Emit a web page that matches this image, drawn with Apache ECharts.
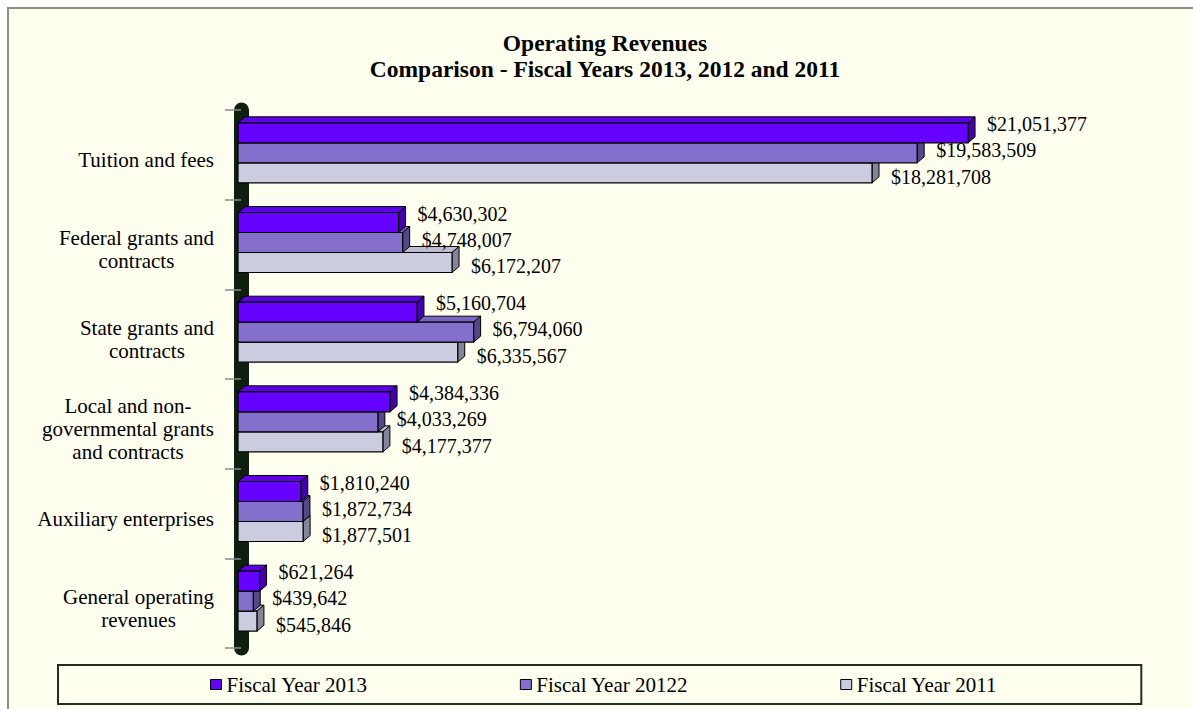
<!DOCTYPE html>
<html>
<head>
<meta charset="utf-8">
<script src="https://cdn.jsdelivr.net/npm/echarts@6/dist/echarts.min.js"></script>
<style>
  html, body { margin: 0; padding: 0; background: #ffffff; overflow: hidden; }
  #frame { position: absolute; left: 7px; top: 7px; width: 1300px; height: 800px;
           border: 2px solid #8a9080; background: #FFFFF0; }
  #chart { position: absolute; left: 0; top: 0; width: 1193px; height: 709px; }
</style>
</head>
<body>
<div id="frame"></div>
<div id="chart"></div>
<script>
const categories = [
  'Tuition and fees',
  'Federal grants and\ncontracts',
  'State grants and\ncontracts',
  'Local and non-\ngovernmental grants\nand contracts',
  'Auxiliary enterprises',
  'General operating\nrevenues'
];
const seriesNames = ['Fiscal Year 2013', 'Fiscal Year 20122', 'Fiscal Year 2011'];
const fy2013 = [21051377, 4630302, 5160704, 4384336, 1810240, 621264];
const fy2012 = [19583509, 4748007, 6794060, 4033269, 1872734, 439642];
const fy2011 = [18281708, 6172207, 6335567, 4177377, 1877501, 545846];

const FONT = '"Liberation Serif", "Times New Roman", serif';
const palette = [
  { front: '#6600FF', top: '#5C00E6', side: '#4400AA', dy: -9 },
  { front: '#8470CC', top: '#7A66C0', side: '#554888', dy: -3 },
  { front: '#CCCCE0', top: '#BDBDD2', side: '#85859A', dy: 4 }
];

function fmt(v) { return '$' + Math.round(v).toLocaleString('en-US'); }

function render3D(idx) {
  const col = palette[idx];
  return function (params, api) {
    const cat = api.value(0), val = api.value(1);
    const a = api.coord([0, cat]);
    const b = api.coord([val, cat]);
    const band = api.size([0, 1])[1];
    const h = band * 0.223;
    const dx = 7, dy = 6;
    const y = a[1] - 1.5 * h - 2 + idx * h;
    const x0 = a[0], x1 = b[0];
    return {
      type: 'group',
      children: [
        { type: 'polygon', shape: { points: [[x0, y], [x0 + dx, y - dy], [x1 + dx, y - dy], [x1, y]] },
          style: { fill: col.top, stroke: '#000', lineWidth: 1 } },
        { type: 'polygon', shape: { points: [[x1, y], [x1 + dx, y - dy], [x1 + dx, y + h - dy], [x1, y + h]] },
          style: { fill: col.side, stroke: '#000', lineWidth: 1 } },
        { type: 'rect', shape: { x: x0, y: y, width: x1 - x0, height: h },
          style: { fill: col.front, stroke: '#000', lineWidth: 1.2 } },
        { type: 'text', x: x1 + dx + 12, y: y + h / 2 + col.dy,
          style: { text: fmt(val), fill: '#000', font: '20px ' + FONT, align: 'left', verticalAlign: 'middle' } }
      ]
    };
  };
}

const seriesData = [fy2013, fy2012, fy2011];
const chart = echarts.init(document.getElementById('chart'), null, { renderer: 'svg' });
chart.setOption({
  backgroundColor: 'transparent',
  animation: false,
  title: {
    text: 'Operating Revenues\nComparison - Fiscal Years 2013, 2012 and 2011',
    left: 600, top: 25, textAlign: 'center',
    textStyle: { fontFamily: FONT, fontSize: 23.5, fontWeight: 'bold', lineHeight: 26, color: '#000' }
  },
  legend: {
    left: 58, top: 665,
    padding: [9, 144, 9, 152],
    borderColor: '#203020', borderWidth: 2,
    backgroundColor: '#FFFFF0',
    itemWidth: 11, itemHeight: 10, itemGap: 152,
    textStyle: { fontFamily: FONT, fontSize: 21, color: '#000' },
    data: seriesNames.map((n, i) => ({
      name: n, icon: 'rect',
      itemStyle: { color: palette[i].front, borderColor: '#000', borderWidth: 1 }
    }))
  },
  grid: { left: 238, right: 88, top: 110, bottom: 61 },
  xAxis: { type: 'value', min: 0, max: 25000000, show: false },
  yAxis: {
    type: 'category', inverse: true, data: categories, offset: -3,
    axisLine: { show: true, lineStyle: { color: '#0f1f0f', width: 15 } },
    axisTick: { show: true, inside: false, length: 16, lineStyle: { color: '#8a8a8a', width: 1.5 } },
    axisLabel: {
      align: 'right', margin: 27, color: '#000', padding: [10, 0, 0, 0],
      formatter: v => v.split('\n').map(l => '{c|' + l + '}').join('\n'),
      rich: { c: { align: 'center', fontFamily: FONT, fontSize: 21, lineHeight: 23, color: '#000' } }
    },
    splitLine: { show: false }
  },
  series: seriesData.map((arr, i) => ({
    type: 'custom',
    name: seriesNames[i],
    z: 5 - i,
    renderItem: render3D(i),
    encode: { x: 1, y: 0 },
    itemStyle: { color: palette[i].front },
    data: arr.map((v, k) => [k, v])
  }))
});
</script>
</body>
</html>
